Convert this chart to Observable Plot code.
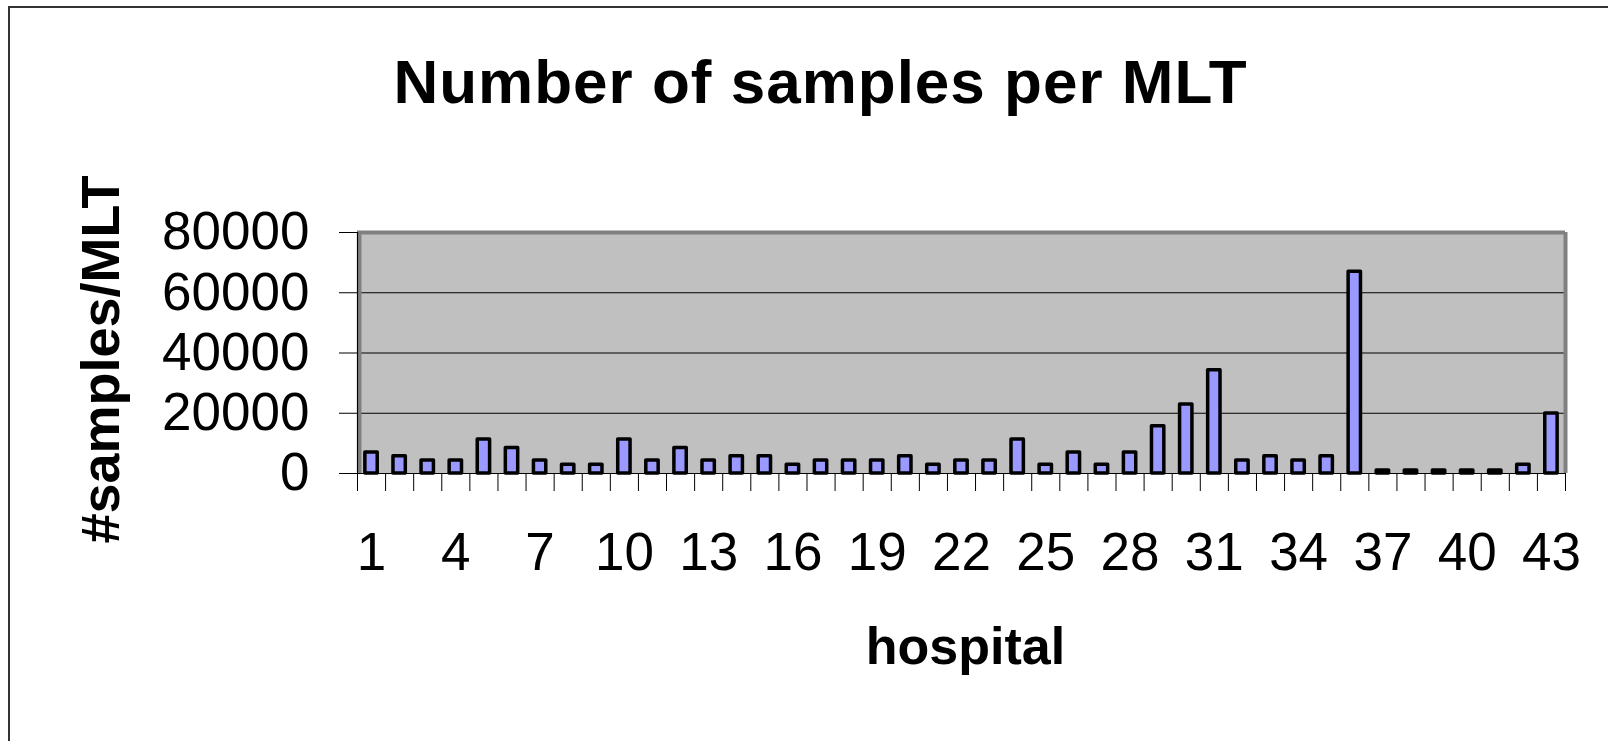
<!DOCTYPE html>
<html>
<head>
<meta charset="utf-8">
<script src="https://cdn.jsdelivr.net/npm/d3@7"></script>
<script src="https://cdn.jsdelivr.net/npm/@observablehq/plot@0.6"></script>
<style>
html, body { margin: 0; padding: 0; background: #fff; overflow: hidden; }
#wrap { position: relative; width: 1608px; height: 741px; overflow: hidden; }
#border { position: absolute; left: 8px; top: 6px; width: 1700px; height: 900px; border: 2px solid #333; box-sizing: border-box; }
#chart { position: absolute; left: 0; top: 0; }
</style>
</head>
<body>
<div id="wrap"><div id="border"></div><div id="chart"></div></div>
<script>
// ---- data ----
const hospitals = [1,2,3,4,5,6,7,8,9,10,11,12,13,14,15,16,17,18,19,20,21,22,23,24,25,26,27,28,29,30,31,32,33,34,35,36,37,38,39,40,41,42,43];
const samples = [7000,5700,4300,4300,11300,8500,4300,2900,2900,11300,4300,8500,4300,5700,5700,2900,4300,4300,4300,5700,2900,4300,4300,11300,2900,7000,2900,7000,15700,22900,34300,4300,5700,4300,5700,67000,1000,1000,1000,1000,1000,2900,19900];
const yTicks = [0, 20000, 40000, 60000, 80000];
const gridTicks = [20000, 40000, 60000];
const xLabelTicks = [1,4,7,10,13,16,19,22,25,28,31,34,37,40,43];
const titleText = "Number of samples per MLT";
const yTitle = "#samples/MLT";
const xTitle = "hospital";

const data = hospitals.map((h, i) => ({hospital: h, samples: samples[i]}));
const boundaries = hospitals.map(h => h - 0.5).concat([hospitals[hospitals.length - 1] + 0.5]);
const halfBar = 0.22;

const chart = Plot.plot({
  width: 1608,
  height: 741,
  marginLeft: 357,
  marginRight: 43,
  marginTop: 232,
  marginBottom: 268,
  style: {fontFamily: "'Liberation Sans', Arial, sans-serif", fontSize: "53px", background: "transparent", color: "#000", overflow: "visible"},
  x: {type: "linear", domain: [0.5, 43.5]},
  y: {type: "linear", domain: [0, 80000]},
  marks: [
    Plot.frame({fill: "#C0C0C0", stroke: null}),
    Plot.gridY({ticks: gridTicks, stroke: "#000", strokeOpacity: 1, strokeWidth: 1.2}),
    Plot.ruleY([80000], {stroke: "#808080", strokeWidth: 4}),
    Plot.ruleX([43.5], {stroke: "#808080", strokeWidth: 4}),
    Plot.ruleX([0.5], {stroke: "#808080", strokeWidth: 4, dx: 2}),
    Plot.ruleX([0.5], {stroke: "#000", strokeWidth: 1.2}),
    Plot.rect(data, {
      x1: d => d.hospital - halfBar,
      x2: d => d.hospital + halfBar,
      y1: 0,
      y2: "samples",
      fill: "#9999FF",
      stroke: "#000",
      strokeWidth: 3.5,
      strokeLinejoin: "round"
    }),
    Plot.ruleY([0], {stroke: "#000", strokeWidth: 1.2}),
    Plot.axisY({ticks: yTicks, tickSize: 18, tickPadding: 30, tickFormat: d => String(d), label: null, fontSize: 53, stroke: "#000"}),
    Plot.axisX({ticks: boundaries, tickSize: 18, tickFormat: () => "", label: null, stroke: "#000"}),
    Plot.axisX({ticks: xLabelTicks, tickSize: 0, tickPadding: 59, tickFormat: d => String(d), label: null, fontSize: 53}),
    Plot.text([titleText], {text: d => d, frameAnchor: "top", dx: -141, dy: -130, lineAnchor: "bottom", textAnchor: "middle", fontSize: 62, fontWeight: "bold", fill: "#000"}),
    Plot.text([yTitle], {text: d => d, frameAnchor: "left", dx: -239, dy: 6.5, rotate: -90, lineAnchor: "bottom", textAnchor: "middle", fontSize: 54, fontWeight: "bold", fill: "#000"}),
    Plot.text([xTitle], {text: d => d, frameAnchor: "bottom", dx: 4, dy: 190, lineAnchor: "bottom", textAnchor: "middle", fontSize: 52, fontWeight: "bold", fill: "#000"})
  ]
});

document.getElementById("chart").appendChild(chart);
d3.select(chart).selectAll("text").filter(function() { return this.textContent === titleText; }).attr("letter-spacing", "1px");
</script>
</body>
</html>
